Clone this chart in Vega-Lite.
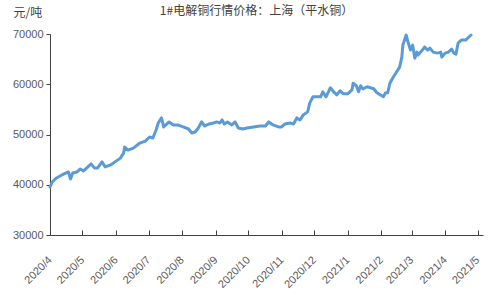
{
  "$schema": "https://vega.github.io/schema/vega-lite/v6.json",
  "autosize": "none",
  "width": 433,
  "height": 201,
  "padding": {"left": 50, "top": 34, "right": 17, "bottom": 65},
  "background": "white",
  "config": {
    "view": {"stroke": null},
    "font": "Liberation Sans",
    "axis": {"grid": false, "domainColor": "#404040", "tickColor": "#404040", "labelColor": "#595959", "labelFontSize": 11, "labelFont": "Liberation Sans"}
  },
  "title": {
    "text": "1#电解铜行情价格：上海（平水铜）",
    "font": "Noto Sans CJK SC",
    "fontSize": 12,
    "fontWeight": "normal",
    "color": "#404040",
    "anchor": "middle",
    "frame": "group",
    "baseline": "middle",
    "offset": -17,
    "dx": -10
  },
  "data": {
    "values": [
      {"date": "2020/04/01", "price": 39550},
      {"date": "2020/04/03", "price": 40550},
      {"date": "2020/04/07", "price": 41350},
      {"date": "2020/04/12", "price": 41950},
      {"date": "2020/04/16", "price": 42350},
      {"date": "2020/04/18", "price": 42550},
      {"date": "2020/04/20", "price": 41150},
      {"date": "2020/04/22", "price": 42350},
      {"date": "2020/04/26", "price": 42550},
      {"date": "2020/04/29", "price": 43150},
      {"date": "2020/05/02", "price": 42750},
      {"date": "2020/05/06", "price": 43550},
      {"date": "2020/05/09", "price": 44150},
      {"date": "2020/05/12", "price": 43350},
      {"date": "2020/05/15", "price": 43350},
      {"date": "2020/05/19", "price": 44550},
      {"date": "2020/05/22", "price": 43550},
      {"date": "2020/05/27", "price": 43950},
      {"date": "2020/05/31", "price": 44550},
      {"date": "2020/06/05", "price": 45300},
      {"date": "2020/06/08", "price": 46300},
      {"date": "2020/06/09", "price": 47500},
      {"date": "2020/06/12", "price": 46900},
      {"date": "2020/06/17", "price": 47300},
      {"date": "2020/06/23", "price": 48300},
      {"date": "2020/06/28", "price": 48700},
      {"date": "2020/07/02", "price": 49500},
      {"date": "2020/07/05", "price": 49300},
      {"date": "2020/07/08", "price": 50900},
      {"date": "2020/07/10", "price": 52300},
      {"date": "2020/07/13", "price": 53300},
      {"date": "2020/07/15", "price": 51500},
      {"date": "2020/07/17", "price": 51900},
      {"date": "2020/07/20", "price": 52500},
      {"date": "2020/07/24", "price": 51900},
      {"date": "2020/07/28", "price": 51900},
      {"date": "2020/08/02", "price": 51500},
      {"date": "2020/08/07", "price": 51100},
      {"date": "2020/08/10", "price": 50300},
      {"date": "2020/08/13", "price": 50500},
      {"date": "2020/08/16", "price": 51300},
      {"date": "2020/08/19", "price": 52500},
      {"date": "2020/08/22", "price": 51700},
      {"date": "2020/08/26", "price": 52100},
      {"date": "2020/08/30", "price": 52300},
      {"date": "2020/09/02", "price": 52500},
      {"date": "2020/09/05", "price": 52300},
      {"date": "2020/09/07", "price": 52900},
      {"date": "2020/09/09", "price": 52100},
      {"date": "2020/09/12", "price": 52500},
      {"date": "2020/09/16", "price": 51900},
      {"date": "2020/09/19", "price": 52500},
      {"date": "2020/09/22", "price": 51300},
      {"date": "2020/09/26", "price": 51100},
      {"date": "2020/09/30", "price": 51300},
      {"date": "2020/10/06", "price": 51500},
      {"date": "2020/10/12", "price": 51700},
      {"date": "2020/10/17", "price": 51700},
      {"date": "2020/10/20", "price": 52500},
      {"date": "2020/10/24", "price": 51900},
      {"date": "2020/10/29", "price": 51500},
      {"date": "2020/11/01", "price": 51500},
      {"date": "2020/11/04", "price": 52100},
      {"date": "2020/11/09", "price": 52300},
      {"date": "2020/11/12", "price": 52100},
      {"date": "2020/11/15", "price": 53300},
      {"date": "2020/11/18", "price": 52900},
      {"date": "2020/11/21", "price": 53900},
      {"date": "2020/11/25", "price": 54500},
      {"date": "2020/11/27", "price": 56300},
      {"date": "2020/11/30", "price": 57500},
      {"date": "2020/12/07", "price": 57500},
      {"date": "2020/12/09", "price": 58500},
      {"date": "2020/12/12", "price": 57500},
      {"date": "2020/12/16", "price": 59300},
      {"date": "2020/12/19", "price": 58500},
      {"date": "2020/12/22", "price": 57900},
      {"date": "2020/12/25", "price": 58700},
      {"date": "2020/12/28", "price": 58100},
      {"date": "2021/01/01", "price": 58100},
      {"date": "2021/01/05", "price": 58900},
      {"date": "2021/01/06", "price": 60200},
      {"date": "2021/01/09", "price": 59700},
      {"date": "2021/01/11", "price": 58500},
      {"date": "2021/01/13", "price": 59700},
      {"date": "2021/01/15", "price": 59100},
      {"date": "2021/01/19", "price": 59500},
      {"date": "2021/01/22", "price": 59300},
      {"date": "2021/01/25", "price": 59100},
      {"date": "2021/01/28", "price": 58300},
      {"date": "2021/01/31", "price": 57900},
      {"date": "2021/02/03", "price": 57500},
      {"date": "2021/02/05", "price": 58300},
      {"date": "2021/02/07", "price": 58300},
      {"date": "2021/02/09", "price": 60200},
      {"date": "2021/02/12", "price": 61400},
      {"date": "2021/02/18", "price": 63400},
      {"date": "2021/02/20", "price": 65400},
      {"date": "2021/02/21", "price": 67800},
      {"date": "2021/02/24", "price": 69800},
      {"date": "2021/02/26", "price": 68200},
      {"date": "2021/02/28", "price": 66800},
      {"date": "2021/03/02", "price": 67800},
      {"date": "2021/03/04", "price": 65200},
      {"date": "2021/03/06", "price": 66400},
      {"date": "2021/03/07", "price": 65800},
      {"date": "2021/03/11", "price": 66800},
      {"date": "2021/03/13", "price": 67400},
      {"date": "2021/03/16", "price": 66800},
      {"date": "2021/03/18", "price": 67200},
      {"date": "2021/03/21", "price": 66400},
      {"date": "2021/03/25", "price": 66200},
      {"date": "2021/03/28", "price": 66400},
      {"date": "2021/03/29", "price": 65400},
      {"date": "2021/04/01", "price": 66200},
      {"date": "2021/04/04", "price": 66400},
      {"date": "2021/04/07", "price": 67000},
      {"date": "2021/04/09", "price": 66200},
      {"date": "2021/04/11", "price": 66000},
      {"date": "2021/04/13", "price": 68200},
      {"date": "2021/04/16", "price": 68800},
      {"date": "2021/04/20", "price": 68800},
      {"date": "2021/04/22", "price": 69200},
      {"date": "2021/04/25", "price": 69800}
    ]
  },
  "mark": {"type": "line", "color": "#5B9BD5", "strokeWidth": 3, "strokeJoin": "round", "strokeCap": "round"},
  "encoding": {
    "x": {
      "field": "date",
      "type": "temporal",
      "scale": {"domain": [{"year": 2020, "month": 4, "date": 1}, {"year": 2021, "month": 5, "date": 6}]},
      "axis": {
        "title": null,
        "format": "%Y/%-m",
        "tickCount": {"interval": "month", "step": 1},
        "labelAngle": -45,
        "labelAlign": "right",
        "labelBaseline": "middle",
        "tickSize": -5,
        "labelPadding": 28,
        "labelOverlap": false,
        "labelBound": false,
        "labelFlush": false
      }
    },
    "y": {
      "field": "price",
      "type": "quantitative",
      "scale": {"domain": [30000, 70000], "nice": false, "zero": false},
      "axis": {
        "values": [30000, 40000, 50000, 60000, 70000],
        "format": "d",
        "tickSize": 4,
        "labelPadding": 3,
        "title": "元/吨",
        "titleFont": "Noto Sans CJK SC",
        "titleFontSize": 12,
        "titleFontWeight": "normal",
        "titleColor": "#404040",
        "titleAngle": 0,
        "titleAlign": "left",
        "titleBaseline": "middle",
        "titleX": -37,
        "titleY": -22
      }
    }
  }
}
